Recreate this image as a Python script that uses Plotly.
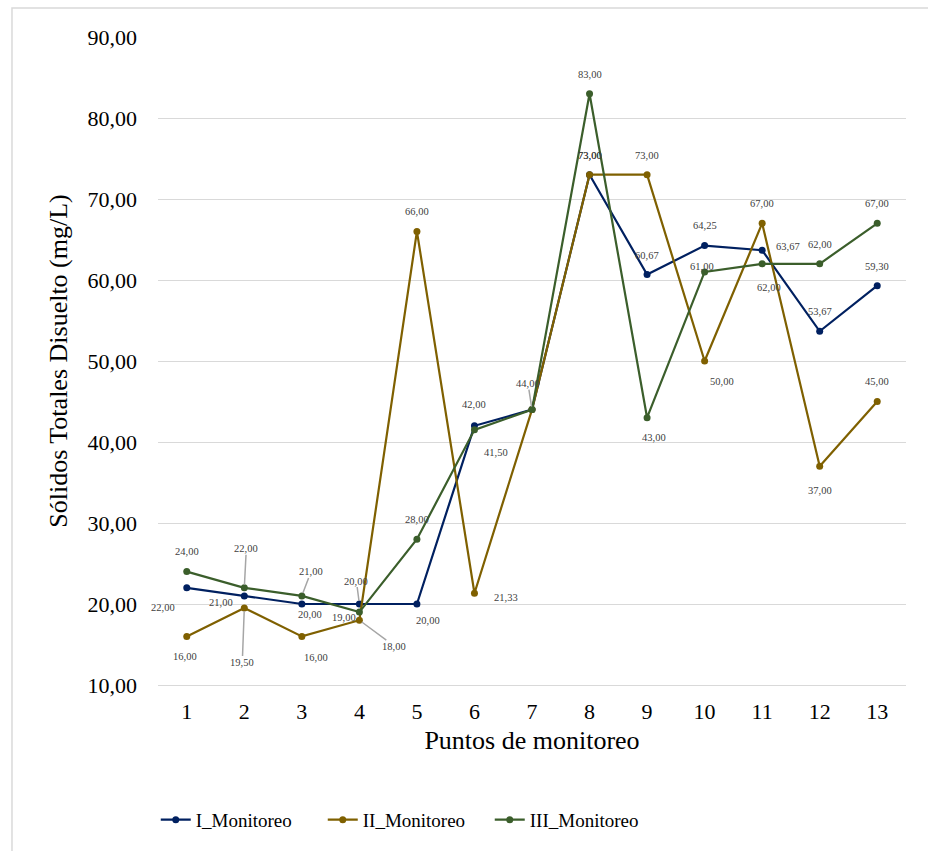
import plotly.graph_objects as go

puntos = [1, 2, 3, 4, 5, 6, 7, 8, 9, 10, 11, 12, 13]
tick_labels = [str(p) for p in puntos]
series_names = ["I_Monitoreo", "II_Monitoreo", "III_Monitoreo"]
mon_I = [22.00, 21.00, 20.00, 20.00, 20.00, 42.00, 44.00, 73.00, 60.67, 64.25, 63.67, 53.67, 59.30]
mon_II = [16.00, 19.50, 16.00, 18.00, 66.00, 21.33, 44.00, 73.00, 73.00, 50.00, 67.00, 37.00, 45.00]
mon_III = [24.00, 22.00, 21.00, 19.00, 28.00, 41.50, 44.00, 83.00, 43.00, 61.00, 62.00, 62.00, 67.00]
y_ticks = [10, 20, 30, 40, 50, 60, 70, 80, 90]

colors = ["#002060", "#7F6000", "#3B5E2B"]
FONT = "Liberation Serif, Times New Roman, serif"

# label placement (pixel offsets dx, dy(down), leader line flag); None = hidden (overlapping)
off_I = [(-24, 20, 0), (-23, 7, 0), (8, 10, 0), (-3, -23, 1), (11, 16, 0), (0, -21, 0), (-4, -26, 1),
         (0, -19, 0), (0, -19, 0), (0, -20, 0), (26, -4, 0), (0, -20, 0), (0, -19, 0)]
off_II = [(-2, 20, 0), (-2, 54, 1), (14, 21, 0), (35, 26, 1), (0, -20, 0), (32, 4, 0), None,
          (0, -19, 0), (0, -19, 0), (17, 20, 0), (0, -20, 0), (0, 24, 0), (0, -20, 0)]
off_III = [(0, -20, 0), (2, -39, 1), (9, -24, 1), (-15, 5, 0), (0, -20, 0), (22, 23, 0), None,
           (0, -19, 0), (7, 20, 0), (-3, -5, 0), (7, 24, 0), (0, -19, 0), (0, -20, 0)]

def fmt(v):
    return f"{v:.2f}".replace(".", ",")

fig = go.Figure()
annotations = []
for name, vals, col, offs in zip(series_names, [mon_I, mon_II, mon_III], colors, [off_I, off_II, off_III]):
    fig.add_trace(go.Scatter(x=puntos, y=vals, name=name, mode="lines+markers",
                             line=dict(color=col, width=2.2),
                             marker=dict(color=col, size=7)))
    for x, v, o in zip(puntos, vals, offs):
        if o is None:
            continue
        dx, dy, lead = o
        if lead:
            annotations.append(dict(x=x, y=v, text=fmt(v), showarrow=True, ax=dx, ay=dy,
                                    arrowhead=0, arrowwidth=1.5, arrowcolor="#A6A6A6", standoff=3,
                                    borderpad=0,
                                    font=dict(family=FONT, size=10.5, color="#404040")))
        else:
            annotations.append(dict(x=x, y=v, text=fmt(v), showarrow=False, xshift=dx, yshift=-dy,
                                    font=dict(family=FONT, size=10.5, color="#404040")))

fig.update_layout(
    width=928, height=851,
    margin=dict(l=158, r=22, t=37, b=166),
    paper_bgcolor="white", plot_bgcolor="white",
    font=dict(family=FONT, color="#000000"),
    annotations=annotations,
    showlegend=True,
    legend=dict(orientation="h", x=-0.003, xanchor="left", y=-0.208, yanchor="middle",
                font=dict(family=FONT, size=19, color="#000000"),
                entrywidth=122, entrywidthmode="pixels", traceorder="normal"),
    shapes=[dict(type="rect", xref="paper", yref="paper", x0=-0.1952, x1=1.05, y0=-0.3, y1=1.0448,
                 line=dict(color="#D9D9D9", width=1.5), fillcolor="rgba(0,0,0,0)", layer="below")],
)
fig.update_xaxes(range=[0.5, 13.5], tickvals=puntos, ticktext=tick_labels, showgrid=False,
                 zeroline=False, showline=True, linecolor="#D9D9D9", linewidth=1.3,
                 tickfont=dict(family=FONT, size=22), ticks="", ticklabelstandoff=6,
                 title=dict(text="Puntos de monitoreo", font=dict(family=FONT, size=26), standoff=8))
fig.update_yaxes(range=[10, 90], tickvals=y_ticks, ticktext=[fmt(v) for v in y_ticks],
                 showgrid=True, gridcolor="#D9D9D9", gridwidth=1.3, zeroline=False, showline=False,
                 tickfont=dict(family=FONT, size=22), ticks="", ticklabelstandoff=20,
                 title=dict(text="Sólidos Totales Disuelto (mg/L)", font=dict(family=FONT, size=26), standoff=12))

fig.write_html("out.html")
